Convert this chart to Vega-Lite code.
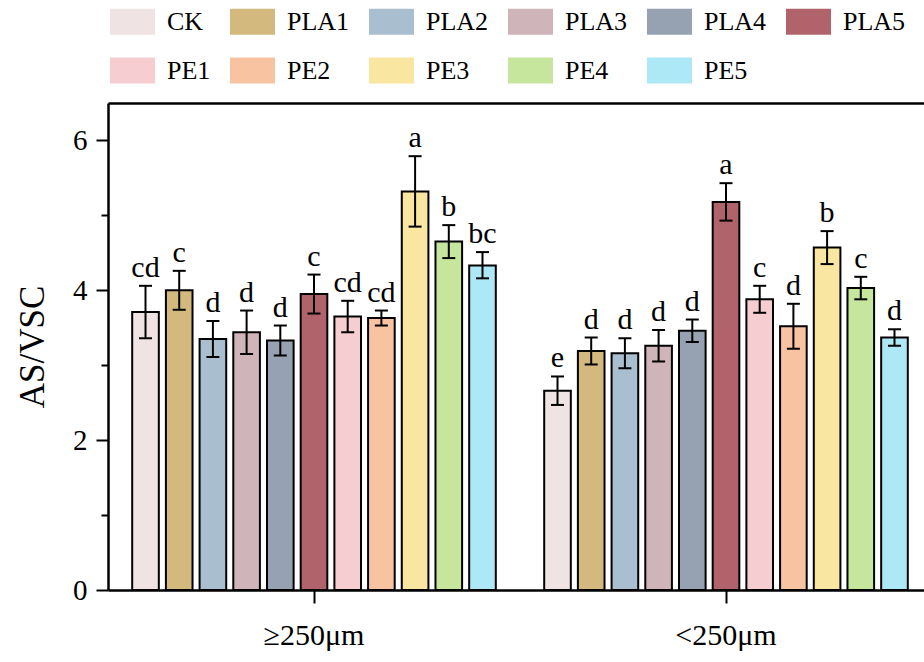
{
  "$schema": "https://vega.github.io/schema/vega-lite/v6.json",
  "width": 816,
  "height": 487,
  "autosize": "none",
  "padding": {"left": 108, "top": 103, "right": 0, "bottom": 72},
  "background": "white",
  "config": {"view": {"stroke": null}, "font": "Liberation Serif"},
  "data": {
    "values": [
      {"size": "≥250μm", "treatment": "CK", "mean": 3.71, "lo": 3.36, "hi": 4.06, "letter": "cd"},
      {"size": "≥250μm", "treatment": "PLA1", "mean": 4.00, "lo": 3.74, "hi": 4.26, "letter": "c"},
      {"size": "≥250μm", "treatment": "PLA2", "mean": 3.35, "lo": 3.11, "hi": 3.59, "letter": "d"},
      {"size": "≥250μm", "treatment": "PLA3", "mean": 3.44, "lo": 3.15, "hi": 3.73, "letter": "d"},
      {"size": "≥250μm", "treatment": "PLA4", "mean": 3.33, "lo": 3.13, "hi": 3.53, "letter": "d"},
      {"size": "≥250μm", "treatment": "PLA5", "mean": 3.95, "lo": 3.69, "hi": 4.21, "letter": "c"},
      {"size": "≥250μm", "treatment": "PE1", "mean": 3.65, "lo": 3.44, "hi": 3.86, "letter": "cd"},
      {"size": "≥250μm", "treatment": "PE2", "mean": 3.63, "lo": 3.53, "hi": 3.73, "letter": "cd"},
      {"size": "≥250μm", "treatment": "PE3", "mean": 5.32, "lo": 4.85, "hi": 5.79, "letter": "a"},
      {"size": "≥250μm", "treatment": "PE4", "mean": 4.65, "lo": 4.43, "hi": 4.87, "letter": "b"},
      {"size": "≥250μm", "treatment": "PE5", "mean": 4.33, "lo": 4.16, "hi": 4.51, "letter": "bc"},
      {"size": "<250μm", "treatment": "CK", "mean": 2.66, "lo": 2.47, "hi": 2.85, "letter": "e"},
      {"size": "<250μm", "treatment": "PLA1", "mean": 3.19, "lo": 3.01, "hi": 3.37, "letter": "d"},
      {"size": "<250μm", "treatment": "PLA2", "mean": 3.16, "lo": 2.96, "hi": 3.36, "letter": "d"},
      {"size": "<250μm", "treatment": "PLA3", "mean": 3.26, "lo": 3.05, "hi": 3.47, "letter": "d"},
      {"size": "<250μm", "treatment": "PLA4", "mean": 3.46, "lo": 3.31, "hi": 3.61, "letter": "d"},
      {"size": "<250μm", "treatment": "PLA5", "mean": 5.18, "lo": 4.93, "hi": 5.43, "letter": "a"},
      {"size": "<250μm", "treatment": "PE1", "mean": 3.88, "lo": 3.70, "hi": 4.06, "letter": "c"},
      {"size": "<250μm", "treatment": "PE2", "mean": 3.52, "lo": 3.22, "hi": 3.82, "letter": "d"},
      {"size": "<250μm", "treatment": "PE3", "mean": 4.57, "lo": 4.35, "hi": 4.79, "letter": "b"},
      {"size": "<250μm", "treatment": "PE4", "mean": 4.03, "lo": 3.88, "hi": 4.18, "letter": "c"},
      {"size": "<250μm", "treatment": "PE5", "mean": 3.37, "lo": 3.26, "hi": 3.48, "letter": "d"}
    ]
  },
  "layer": [
    {
      "mark": {"type": "bar", "stroke": "black", "strokeWidth": 2},
      "encoding": {
        "x": {
          "field": "size", "type": "nominal", "sort": ["≥250μm", "<250μm"],
          "scale": {"range": [0, 824], "paddingInner": 0, "paddingOuter": 0},
          "axis": {
            "orient": "bottom", "title": null, "labelAngle": 0,
            "labelFont": "Liberation Serif", "labelFontSize": 30, "labelColor": "black",
            "labelPadding": 17, "tickSize": 13, "tickWidth": 2, "tickColor": "black",
            "domainWidth": 2.5, "domainColor": "black"
          }
        },
        "xOffset": {
          "field": "treatment", "type": "nominal",
          "sort": ["CK", "PLA1", "PLA2", "PLA3", "PLA4", "PLA5", "PE1", "PE2", "PE3", "PE4", "PE5"],
          "scale": {"paddingInner": 0.21, "paddingOuter": 0.718}
        },
        "y": {
          "field": "mean", "type": "quantitative",
          "scale": {"domain": [0, 6.5], "nice": false},
          "axis": {
            "title": "AS/VSC", "titleFont": "Liberation Serif", "titleFontSize": 35,
            "titleFontWeight": "normal", "titleColor": "black", "titlePadding": 22,
            "values": [0, 1, 2, 3, 4, 5, 6], "format": "d",
            "labelExpr": "datum.value % 2 == 0 ? datum.label : ''",
            "labelFont": "Liberation Serif", "labelFontSize": 29, "labelColor": "black",
            "labelPadding": 9,
            "tickSize": {"condition": {"test": "datum.value % 2 == 1", "value": 7}, "value": 12},
            "tickWidth": 2, "tickColor": "black",
            "domainWidth": 2.5, "domainColor": "black", "grid": false
          }
        },
        "fill": {
          "field": "treatment", "type": "nominal",
          "scale": {
            "domain": ["CK", "PLA1", "PLA2", "PLA3", "PLA4", "PLA5", "PE1", "PE2", "PE3", "PE4", "PE5"],
            "range": ["#EFE4E3", "#D4B97E", "#A9BECE", "#CFB4BA", "#96A1B2", "#B0636A", "#F6CDD1", "#F8C3A0", "#F9E6A0", "#C5E69C", "#ADE8F6"]
          },
          "legend": {
            "orient": "none", "legendX": 2, "legendY": -104, "direction": "horizontal",
            "columns": 6, "title": null,
            "symbolType": "M-1,-0.578H1V0.578H-1Z", "symbolSize": 2025,
            "symbolStrokeWidth": 0, "symbolOpacity": 1,
            "labelFont": "Liberation Serif", "labelFontSize": 26, "labelColor": "black",
            "labelOffset": 12, "columnPadding": 19, "rowPadding": 13
          }
        }
      }
    },
    {
      "mark": {"type": "rule", "strokeWidth": 2, "color": "black"},
      "encoding": {
        "x": {"field": "size", "type": "nominal", "sort": ["≥250μm", "<250μm"], "axis": null},
        "xOffset": {"field": "treatment", "type": "nominal", "sort": ["CK", "PLA1", "PLA2", "PLA3", "PLA4", "PLA5", "PE1", "PE2", "PE3", "PE4", "PE5"]},
        "y": {"field": "lo", "type": "quantitative"},
        "y2": {"field": "hi"}
      }
    },
    {
      "mark": {"type": "tick", "thickness": 2, "size": 13, "color": "black", "opacity": 1},
      "encoding": {
        "x": {"field": "size", "type": "nominal", "sort": ["≥250μm", "<250μm"], "axis": null},
        "xOffset": {"field": "treatment", "type": "nominal", "sort": ["CK", "PLA1", "PLA2", "PLA3", "PLA4", "PLA5", "PE1", "PE2", "PE3", "PE4", "PE5"]},
        "y": {"field": "lo", "type": "quantitative"}
      }
    },
    {
      "mark": {"type": "tick", "thickness": 2, "size": 13, "color": "black", "opacity": 1},
      "encoding": {
        "x": {"field": "size", "type": "nominal", "sort": ["≥250μm", "<250μm"], "axis": null},
        "xOffset": {"field": "treatment", "type": "nominal", "sort": ["CK", "PLA1", "PLA2", "PLA3", "PLA4", "PLA5", "PE1", "PE2", "PE3", "PE4", "PE5"]},
        "y": {"field": "hi", "type": "quantitative"}
      }
    },
    {
      "mark": {"type": "text", "font": "Liberation Serif", "fontSize": 30, "baseline": "alphabetic", "dy": -9, "color": "black"},
      "encoding": {
        "x": {
          "field": "size", "type": "nominal", "sort": ["≥250μm", "<250μm"],
          "axis": {"orient": "top", "labels": false, "ticks": false, "title": null, "domainWidth": 2.5, "domainColor": "black"}
        },
        "xOffset": {"field": "treatment", "type": "nominal", "sort": ["CK", "PLA1", "PLA2", "PLA3", "PLA4", "PLA5", "PE1", "PE2", "PE3", "PE4", "PE5"]},
        "y": {"field": "hi", "type": "quantitative"},
        "text": {"field": "letter"}
      }
    }
  ],
  "resolve": {"axis": {"x": "independent"}}
}
